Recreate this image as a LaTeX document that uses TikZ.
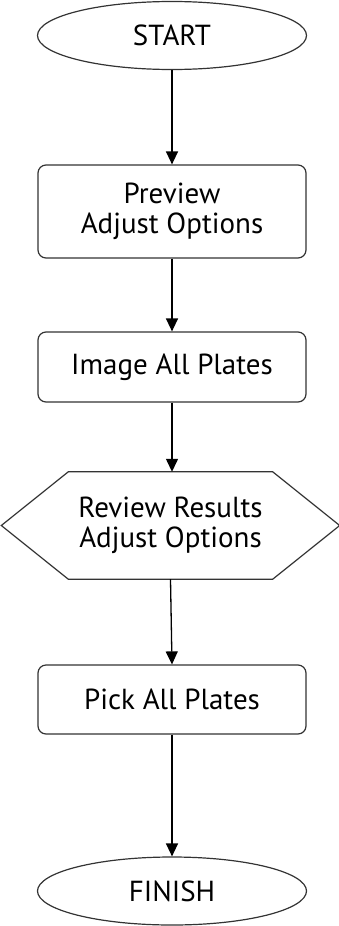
\documentclass[tikz,border=0pt]{standalone}
\usepackage{fontspec}
\setmainfont{PT Sans}
\usetikzlibrary{shapes.geometric,arrows.meta}
\tikzset{
  flowline/.style={line width=1.3pt,-{Triangle[length=13pt,width=12pt]}},
  termbox/.style={ellipse,draw=black!80,line width=1.2pt,minimum width=269pt,minimum height=68pt,inner sep=0pt},
  stepbox/.style={rectangle,rounded corners=8pt,draw=black!80,line width=1.2pt,minimum width=268pt,align=center,inner sep=0pt},
  hexbox/.style={rectangle,minimum width=338pt,minimum height=107pt,align=center,inner sep=0pt}
}
\begin{document}
\begin{tikzpicture}[x=1pt,y=-1pt,font=\fontsize{29}{30}\selectfont]
	\useasboundingbox (0,0) rectangle (339,926);
	% nodes
	\node[termbox] (start) at (172,35.5) {START};
	\node[stepbox,minimum height=93pt] (preview) at (172,211.5) {Preview\\Adjust Options};
	\node[stepbox,minimum height=70pt] (image) at (172,367) {Image All Plates};
	\node[hexbox] (review) at (170.5,525.5) {Review Results\\Adjust Options};
	\draw[draw=black!80,line width=1.2pt] (review.west) -- ([xshift=67pt]review.north west) -- ([xshift=-67pt]review.north east)
		-- (review.east) -- ([xshift=-67pt]review.south east) -- ([xshift=67pt]review.south west) -- cycle;
	\node[stepbox,minimum height=69pt] (pick) at (172,699.5) {Pick All Plates};
	\node[termbox] (finish) at (172,891) {FINISH};
	% arrows
	\draw[flowline] (start) -- (preview);
	\draw[flowline] (preview) -- (image);
	\draw[flowline] (image.south) -- (image.south |- review.north);
	\draw[flowline] (review.south) -- (pick.north);
	\draw[flowline] (pick) -- (finish);
\end{tikzpicture}
\end{document}
